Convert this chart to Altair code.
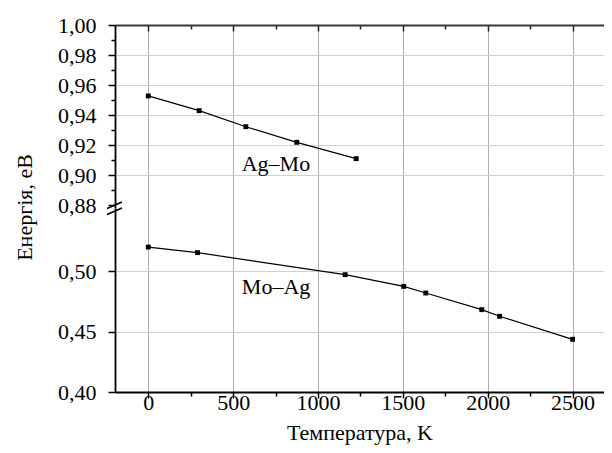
import altair as alt
import pandas as pd

# ---- data ----
agmo_T = [0, 300, 575, 875, 1225]
agmo_E = [0.9527, 0.9429, 0.9322, 0.9218, 0.9109]
moag_T = [0, 290, 1160, 1505, 1635, 1965, 2070, 2500]
moag_E = [0.5202, 0.5156, 0.4973, 0.4876, 0.4821, 0.4683, 0.4628, 0.4437]

series_names = ["Ag–Mo", "Mo–Ag"]
label_T = [752, 753]
label_E = [0.9073, 0.4868]

x_ticks = [0, 250, 500, 750, 1000, 1250, 1500, 1750, 2000, 2250, 2500]
x_major = [0, 500, 1000, 1500, 2000, 2500]
y_top_ticks = [0.88, 0.89, 0.90, 0.91, 0.92, 0.93, 0.94, 0.95, 0.96, 0.97, 0.98, 0.99, 1.00]
y_bot_ticks = [0.40, 0.425, 0.45, 0.475, 0.50, 0.525]

x_domain = [-196, 2685]
y_top_domain = [0.878, 1.0]
y_bot_domain = [0.40, 0.5526]

FONT = "Liberation Serif"
FS = 22
W = 489
H_TOP = 183
H_BOT = 184

df_agmo = pd.DataFrame({"T": agmo_T, "E": agmo_E})
df_moag = pd.DataFrame({"T": moag_T, "E": moag_E})
df_lab_top = pd.DataFrame({"T": [label_T[0]], "E": [label_E[0]], "name": [series_names[0]]})
df_lab_bot = pd.DataFrame({"T": [label_T[1]], "E": [label_E[1]], "name": [series_names[1]]})

xscale = alt.Scale(domain=x_domain, nice=False, zero=False)
ys_top = alt.Scale(domain=y_top_domain, nice=False, zero=False)
ys_bot = alt.Scale(domain=y_bot_domain, nice=False, zero=False)

GRID_X = "#adadad"
GRID_Y = "#d0d0d0"

line_kw = dict(color="black", strokeWidth=1.2,
               point=alt.OverlayMarkDef(shape="square", size=24, color="black", filled=True, opacity=1))

# ---------- top panel ----------
top_major = "round(datum.value*100) % 2 == 0"
y_axis_top = alt.Axis(
    values=y_top_ticks, orient="left", labelOverlap=False,
    labelExpr=f"{top_major} ? replace(format(datum.value, '.2f'), '.', ',') : ''",
    tickSize={"condition": {"test": top_major, "value": 7}, "value": 4},
    grid=True, gridColor=GRID_Y,
    gridOpacity={"condition": {"test": f"{top_major} && datum.value > 0.885 && datum.value < 0.995", "value": 1}, "value": 0},
    labelPadding=12, domainWidth=1.8, tickWidth=1.5,
    title="Енергія, еВ", titleX=-91, titleY=182, titleAngle=-90,
    titleAlign="center", titleBaseline="middle",
)
top_data = alt.Chart(df_agmo).mark_line(**line_kw).encode(
    x=alt.X("T:Q", scale=xscale,
            axis=alt.Axis(values=x_major, orient="bottom", grid=True, gridColor=GRID_X,
                          labels=False, ticks=False, domain=False, title=None)),
    y=alt.Y("E:Q", scale=ys_top, axis=y_axis_top),
)
top_frame = alt.Chart(df_agmo).mark_point(opacity=0).encode(
    x=alt.X("T:Q", scale=xscale,
            axis=alt.Axis(values=x_ticks, orient="bottom", offset=-H_TOP, grid=False,
                          labels=False, domain=True, domainColor="#3a3a3a", domainWidth=1.8,
                          tickColor="#222", tickWidth=1.5, labelOverlap=False,
                          tickSize={"condition": {"test": "datum.value % 500 == 0", "value": 6}, "value": 4},
                          title=None)),
    y=alt.Y("E:Q", scale=ys_top, axis=None),
)
top_text = alt.Chart(df_lab_top).mark_text(font=FONT, fontSize=FS, color="black",
                                           align="center", baseline="middle").encode(
    x=alt.X("T:Q", scale=xscale, axis=None),
    y=alt.Y("E:Q", scale=ys_top, axis=None),
    text="name:N",
)
top = alt.layer(top_data, top_frame, top_text).resolve_axis(
    x="independent", y="independent").properties(width=W, height=H_TOP)

# ---------- bottom panel ----------
bot_major = "round(datum.value*1000) % 50 == 0"
y_axis_bot = alt.Axis(
    values=y_bot_ticks, orient="left", labelOverlap=False,
    labelExpr=f"{bot_major} ? replace(format(datum.value, '.2f'), '.', ',') : ''",
    tickSize={"condition": {"test": bot_major, "value": 7}, "value": 4},
    grid=True, gridColor=GRID_Y,
    gridOpacity={"condition": {"test": f"{bot_major} && datum.value > 0.41", "value": 1}, "value": 0},
    labelPadding=12, domainWidth=1.8, tickWidth=1.5, title=None,
)
x_axis_bot = alt.Axis(
    values=x_ticks, orient="bottom", labelOverlap=False,
    labelExpr="datum.value % 500 == 0 ? format(datum.value, 'd') : ''",
    tickSize={"condition": {"test": "datum.value % 500 == 0", "value": 6}, "value": 4},
    grid=True, gridColor=GRID_X,
    gridOpacity={"condition": {"test": "datum.value % 500 == 0", "value": 1}, "value": 0},
    labelBaseline="alphabetic", labelPadding=11, domainWidth=1.8, tickWidth=1.5,
    title="Температура, K", titleY=47, titleBaseline="alphabetic",
)
bot_data = alt.Chart(df_moag).mark_line(**line_kw).encode(
    x=alt.X("T:Q", scale=xscale, axis=x_axis_bot),
    y=alt.Y("E:Q", scale=ys_bot, axis=y_axis_bot),
)
bot_text = alt.Chart(df_lab_bot).mark_text(font=FONT, fontSize=FS, color="black",
                                           align="center", baseline="middle").encode(
    x=alt.X("T:Q", scale=xscale),
    y=alt.Y("E:Q", scale=ys_bot),
    text="name:N",
)
one = pd.DataFrame({"k": [0]})
brk1 = alt.Chart(one).mark_rule(color="black", strokeWidth=1.5).encode(
    x=alt.value(-8), x2=alt.value(7), y=alt.value(0.5), y2=alt.value(-6))
brk2 = alt.Chart(one).mark_rule(color="black", strokeWidth=1.5).encode(
    x=alt.value(-8), x2=alt.value(7), y=alt.value(6.5), y2=alt.value(0))
bottom = alt.layer(bot_data, bot_text, brk1, brk2).properties(width=W, height=H_BOT)

# plot origin at page (115, 25); the drawing is 596 x 437
chart = alt.vconcat(top, bottom, spacing=0, bounds="flush").properties(
    autosize=alt.AutoSizeParams(type="none"),
    padding={"left": 107, "top": 17, "right": 0, "bottom": 420},
).configure_view(stroke=None).configure_axis(
    labelFont=FONT, titleFont=FONT, labelFontSize=FS, titleFontSize=FS,
    titleFontWeight="normal", labelColor="black", titleColor="black",
    domainColor="black", tickColor="black",
)

chart.save("out.html", embed_options={"renderer": "svg", "actions": False})
